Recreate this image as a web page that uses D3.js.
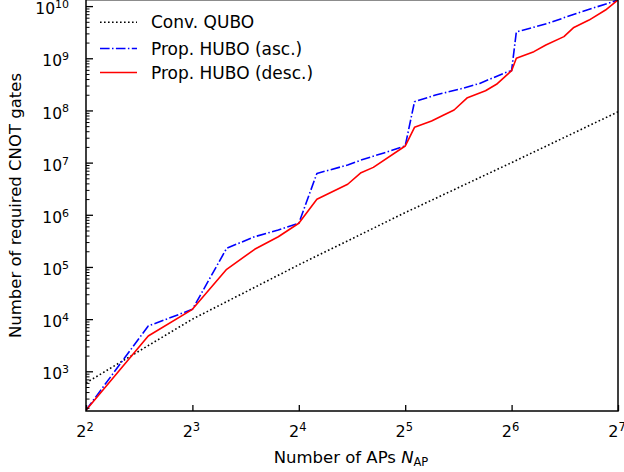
<!DOCTYPE html>
<html>
<head>
<meta charset="utf-8">
<script src="https://cdn.jsdelivr.net/npm/d3@7"></script>
<style>
  html, body { margin: 0; padding: 0; background: #fff; }
  svg { display: block; }
  text { font-family: "DejaVu Sans", sans-serif; fill: #000; }
</style>
</head>
<body>
<svg id="chart" width="624" height="472"></svg>
<script>
// ---- Data ----
const seriesNames = ["Conv. QUBO", "Prop. HUBO (asc.)", "Prop. HUBO (desc.)"];

const quboN      = [4, 8, 16, 32, 64, 128];
const quboGates  = [600, 1.0e4, 1.1e5, 1.1e6, 1.0e7, 9.4e7];

const ascN     = [4, 6, 8, 10, 12, 14, 16, 18, 22, 24, 28, 32, 34, 39, 46, 52, 61, 64, 66, 81, 98, 126, 128];
const ascGates = [180, 7400, 15400, 2.28e5, 3.8e5, 5.1e5, 6.87e5, 6.2e6, 9.0e6, 1.12e7, 1.55e7, 2.08e7,
                  1.47e8, 1.98e8, 2.6e8, 3.3e8, 5.2e8, 5.78e8, 3.2e9, 4.66e9, 7.3e9, 1.26e10, 1.31e10];

const descN     = [4, 6, 8, 10, 12, 14, 16, 18, 22, 24, 26, 32, 34, 38, 41, 44, 48, 54, 58, 64, 66, 74, 80, 90, 96, 106, 118, 126, 128];
const descGates = [180, 4750, 15400, 9.0e4, 2.18e5, 3.8e5, 6.87e5, 1.98e6, 3.85e6, 6.4e6, 8.1e6, 2.08e7,
                   4.75e7, 6.28e7, 8.07e7, 1.02e8, 1.76e8, 2.39e8, 3.17e8, 5.78e8, 1.0e9, 1.34e9, 1.8e9,
                   2.6e9, 3.9e9, 5.4e9, 8.4e9, 1.2e10, 1.31e10];

const xTickExps = [2, 3, 4, 5, 6, 7];
const yTickExps = [3, 4, 5, 6, 7, 8, 9, 10];
const xLabel = "Number of APs ";
const yLabel = "Number of required CNOT gates";

// ---- Layout ----
const L = 86, R = 618, T = 0, B = 411;
const svg = d3.select("#chart");

const x = d3.scaleLog().base(2).domain([4, 128]).range([L, R]);
const y = d3.scaleLog().domain([Math.pow(10, 2.239), Math.pow(10, 10.117)]).range([B, T]);

// clip
svg.append("defs").append("clipPath").attr("id", "clip")
  .append("rect").attr("x", L).attr("y", T - 2).attr("width", R - L).attr("height", B - T + 2);

// lines
const line = d3.line().x(d => x(d[0])).y(d => y(d[1]));
const plot = svg.append("g").attr("clip-path", "url(#clip)");

const styles = [
  { N: quboN, V: quboGates, color: "#000", dash: "1.6,2.4", width: 1.6 },
  { N: ascN,  V: ascGates,  color: "#0000ff", dash: "9.6,2.4,1.5,2.4", width: 1.6 },
  { N: descN, V: descGates, color: "#ff0000", dash: null, width: 1.6 }
];
styles.forEach(s => {
  plot.append("path")
    .datum(s.N.map((n, i) => [n, s.V[i]]))
    .attr("d", line)
    .attr("fill", "none")
    .attr("stroke", s.color)
    .attr("stroke-width", s.width)
    .attr("stroke-dasharray", s.dash)
    .attr("stroke-linejoin", "round");
});

// axes (ticks inward)
const xAxis = d3.axisBottom(x).tickValues(xTickExps.map(e => Math.pow(2, e))).tickSize(-6).tickFormat("");
const gx = svg.append("g").attr("transform", `translate(0,${B})`).call(xAxis);
gx.select(".domain").remove();
gx.selectAll(".tick line").attr("stroke", "#000").attr("stroke-width", 1.3);

const yMinor = [];
for (let e = 2; e <= 10; e++) for (let m = 2; m <= 9; m++) {
  const v = m * Math.pow(10, e);
  if (v >= y.domain()[0] && v <= y.domain()[1]) yMinor.push(v);
}
const gyMinor = svg.append("g").attr("transform", `translate(${L},0)`)
  .call(d3.axisLeft(y).tickValues(yMinor).tickSize(-3.5).tickFormat(""));
gyMinor.select(".domain").remove();
gyMinor.selectAll(".tick line").attr("stroke", "#000").attr("stroke-width", 1);

const gy = svg.append("g").attr("transform", `translate(${L},0)`)
  .call(d3.axisLeft(y).tickValues(yTickExps.map(e => Math.pow(10, e))).tickSize(-7).tickFormat(""));
gy.select(".domain").remove();
gy.selectAll(".tick line").attr("stroke", "#000").attr("stroke-width", 1.3);

// frame
svg.append("rect").attr("x", L).attr("y", T - 0.3).attr("width", R - L).attr("height", B - T + 0.3)
  .attr("fill", "none").attr("stroke", "#000").attr("stroke-width", 1.5);

// y tick labels
yTickExps.forEach(e => {
  const t = svg.append("text").attr("x", 69).attr("y", y(Math.pow(10, e)) + 8.2)
    .attr("text-anchor", "end").style("font-size", "15.5px");
  t.append("tspan").text("10");
  t.append("tspan").attr("dy", -6.2).style("font-size", "11px").text(String(e));
});

// x tick labels
xTickExps.forEach(e => {
  const t = svg.append("text").attr("x", x(Math.pow(2, e)) - 1).attr("y", 437)
    .attr("text-anchor", "middle").style("font-size", "16px");
  t.append("tspan").text("2");
  t.append("tspan").attr("dy", -6.5).style("font-size", "11.5px").text(String(e));
});

// axis labels
const xl = svg.append("text").attr("x", 351).attr("y", 462.5).attr("text-anchor", "middle")
  .style("font-size", "16.5px");
xl.append("tspan").text(xLabel);
xl.append("tspan").style("font-style", "italic").text("N");
xl.append("tspan").attr("dy", 3.5).style("font-size", "11.5px").text("AP");

svg.append("text").attr("transform", `translate(21,${(T + B) / 2}) rotate(-90)`)
  .attr("text-anchor", "middle").style("font-size", "16.5px").text(yLabel);

// legend
const legY = [22.3, 48.5, 72.5];
styles.forEach((s, i) => {
  svg.append("line").attr("x1", 100).attr("x2", 137).attr("y1", legY[i]).attr("y2", legY[i])
    .attr("stroke", s.color).attr("stroke-width", s.width).attr("stroke-dasharray", s.dash);
  svg.append("text").attr("x", 151).attr("y", legY[i] + 6).style("font-size", "17px").text(seriesNames[i]);
});
</script>
</body>
</html>
